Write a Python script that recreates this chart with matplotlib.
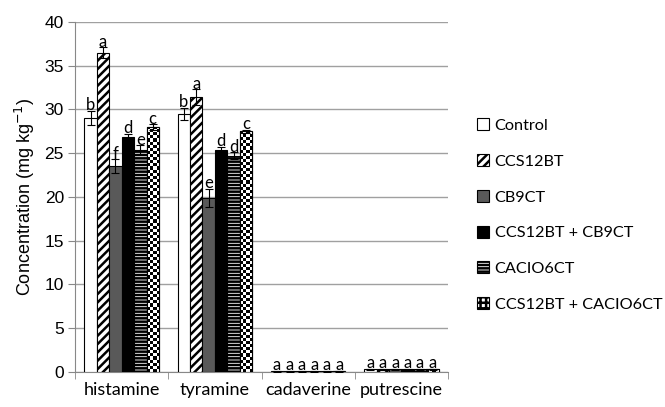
import numpy as np
import matplotlib.pyplot as plt

amines = ['histamine', 'tyramine', 'cadaverine', 'putrescine']
treatments = ['Control', 'CCS12BT', 'CB9CT', 'CCS12BT + CB9CT', 'CACIO6CT', 'CCS12BT + CACIO6CT']

# values per treatment (histamine, tyramine, cadaverine, putrescine)
control = [29.0, 29.5, 0.1, 0.3]
ccs12bt = [36.5, 31.4, 0.1, 0.3]
cb9ct = [23.5, 19.9, 0.1, 0.3]
ccs_cb9 = [26.9, 25.4, 0.1, 0.3]
cacio6ct = [25.4, 24.7, 0.1, 0.3]
ccs_cacio = [28.0, 27.5, 0.1, 0.3]

err_control = [0.8, 0.7, 0.05, 0.05]
err_ccs12bt = [0.6, 0.9, 0.05, 0.05]
err_cb9ct = [0.8, 1.0, 0.05, 0.05]
err_ccs_cb9 = [0.3, 0.3, 0.05, 0.05]
err_cacio6ct = [0.5, 0.4, 0.05, 0.05]
err_ccs_cacio = [0.3, 0.2, 0.05, 0.05]

letters_control = ['b', 'b', 'a', 'a']
letters_ccs12bt = ['a', 'a', 'a', 'a']
letters_cb9ct = ['f', 'e', 'a', 'a']
letters_ccs_cb9 = ['d', 'd', 'a', 'a']
letters_cacio6ct = ['e', 'd', 'a', 'a']
letters_ccs_cacio = ['c', 'c', 'a', 'a']

series = [control, ccs12bt, cb9ct, ccs_cb9, cacio6ct, ccs_cacio]
errors = [err_control, err_ccs12bt, err_cb9ct, err_ccs_cb9, err_cacio6ct, err_ccs_cacio]
letters = [letters_control, letters_ccs12bt, letters_cb9ct, letters_ccs_cb9, letters_cacio6ct, letters_ccs_cacio]

colors = ['white', 'white', '#595959', 'black', 'white', 'white']
hatches = ['', '////', '', '', '-----', '+++']

plt.rcParams['hatch.linewidth'] = 1.8

fig = plt.figure(figsize=(6.65, 4.07), dpi=100)
ax = fig.add_axes([0.1128, 0.086, 0.561, 0.86])
ax.set_xlim(-0.5, 3.5)
ax.set_ylim(0, 40)

x = np.arange(len(amines))
width = 0.8 / 6
for i in range(6):
    pos = x - 0.4 + width * (i + 0.5)
    bars = ax.bar(pos, series[i], width, color=colors[i], edgecolor='black', linewidth=0.8,
                  hatch=hatches[i], label=treatments[i], zorder=3)
    if i == 5:
        # checkerboard fill drawn as a clipped image inside each bar
        for b in bars:
            bx, bw, bh = b.get_x(), b.get_width(), b.get_height()
            ncol = 4
            nrow = max(1, int(round(bh * 8.8 / 3.1)))
            checker = (np.add.outer(np.arange(nrow), np.arange(ncol)) % 2).astype(float)
            im = ax.imshow(checker, extent=(bx, bx + bw, 0, bh), cmap='gray', vmin=0, vmax=1,
                           interpolation='nearest', aspect='auto', zorder=3.2)
            im.set_clip_path(b)
        ax.bar(pos, series[i], width, fill=False, edgecolor='black', linewidth=0.8, zorder=3.4)
    ax.errorbar(pos, series[i], yerr=errors[i], fmt='none', ecolor='black',
                elinewidth=0.8, capsize=3, capthick=0.8, zorder=4)
    for j in range(len(amines)):
        ax.text(pos[j], series[i][j] + errors[i][j] - 0.25, letters[i][j], ha='center', va='bottom',
                fontsize=12, family='Lato', zorder=5)

ax.set_xlim(-0.5, 3.5)
ax.set_ylim(0, 40)
ax.set_yticks(range(0, 41, 5))
ax.set_yticklabels([str(v) for v in range(0, 41, 5)], family='Liberation Sans', fontsize=12.5)
ax.set_xticks(x)
ax.set_xticklabels(amines, family='Lato', fontsize=13)
ax.tick_params(axis='x', which='major', length=0, pad=7)
ax.set_xticks(np.arange(-0.5, 4, 1), minor=True)
ax.tick_params(axis='x', which='minor', length=5, color='#888888')
ax.tick_params(axis='y', length=5, color='#888888', pad=3)
ax.grid(axis='y', color='#a0a0a0', linewidth=1, zorder=0)
for s in ['top', 'right']:
    ax.spines[s].set_visible(False)
ax.spines['left'].set_color('#888888')
ax.spines['bottom'].set_color('#888888')
ax.set_ylabel('Concentration (mg kg$^{-1}$)', family='Liberation Sans', fontsize=13, labelpad=5)

fig.legend(loc='upper left', bbox_to_anchor=(0.707, 0.725), frameon=False, handlelength=0.75,
           handleheight=0.75, labelspacing=1.3, handletextpad=0.35, borderaxespad=0,
           prop={'family': 'Lato', 'size': 11.7})

fig.savefig('out.png', dpi=100)
